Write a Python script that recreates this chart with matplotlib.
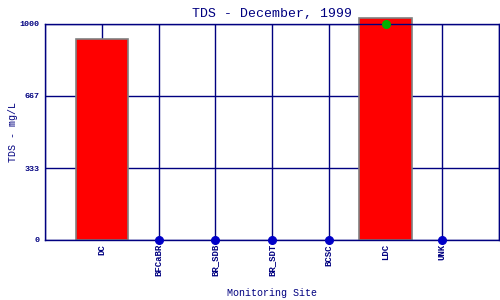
import matplotlib
matplotlib.use("Agg")
import matplotlib.pyplot as plt

sites = ["DC", "BFCaBR", "BR_SDB", "BR_SDT", "BCSC", "LDC", "UNK"]
bar_values = [930, 0, 0, 0, 0, 1028, 0]
zero_sites = ["BFCaBR", "BR_SDB", "BR_SDT", "BCSC", "UNK"]
zero_values = [0, 0, 0, 0, 0]
green_sites = ["LDC"]
green_values = [1000]
yticks = [0, 333, 667, 1000]

navy = "#000080"
font = ["Liberation Mono", "DejaVu Sans Mono"]

fig = plt.figure(figsize=(5, 3), dpi=100)
ax = fig.add_axes([45/500, 60/300, 454/500, 216/300])

pos = {s: i + 1 for i, s in enumerate(sites)}
xs = [pos[s] for s in sites]
bx = [pos[s] for s, v in zip(sites, bar_values) if v > 0]
bv = [v for v in bar_values if v > 0]
bars = ax.bar(bx, bv, width=0.92, color="red", edgecolor="#808080",
              linewidth=1.2, zorder=2)
for b in bars:
    b.set_clip_on(False)

ax.plot([pos[s] for s in zero_sites], zero_values, "o", color="#0000c8",
        markersize=5.5, clip_on=False, zorder=4)
ax.plot([pos[s] for s in green_sites], green_values, "o", color="#00b000",
        markersize=5.5, clip_on=False, zorder=4)

ax.set_xlim(0, 8)
ax.set_ylim(0, 1000)
for x in range(0, 9):
    ax.axvline(x, color=navy, linewidth=1.0, zorder=1)
for y in yticks:
    ax.axhline(y, color=navy, linewidth=1.0, zorder=1)

for sp in ax.spines.values():
    sp.set_color(navy)
    sp.set_linewidth(1.0)

ax.set_xticks(xs)
ax.set_xticklabels(sites, rotation=90, fontsize=6.5, color=navy,
                   family=font, fontweight="bold", va="top")
ax.set_yticks(yticks)
ax.set_yticklabels([str(v) for v in yticks], fontsize=6, color=navy,
                   family=font, fontweight="bold")
ax.tick_params(axis="x", length=0, pad=3)
ax.tick_params(axis="y", length=0, pad=4)

ax.set_title("TDS - December, 1999", fontsize=9.5, color=navy,
             family=font, pad=5)
ax.set_xlabel("Monitoring Site", fontsize=7.2, color=navy, family=font,
              labelpad=8)
ax.set_ylabel("TDS - mg/L", fontsize=7.2, color=navy, family=font)
ax.yaxis.set_label_coords(-0.059, 0.5)

fig.savefig("out.png", dpi=100)
